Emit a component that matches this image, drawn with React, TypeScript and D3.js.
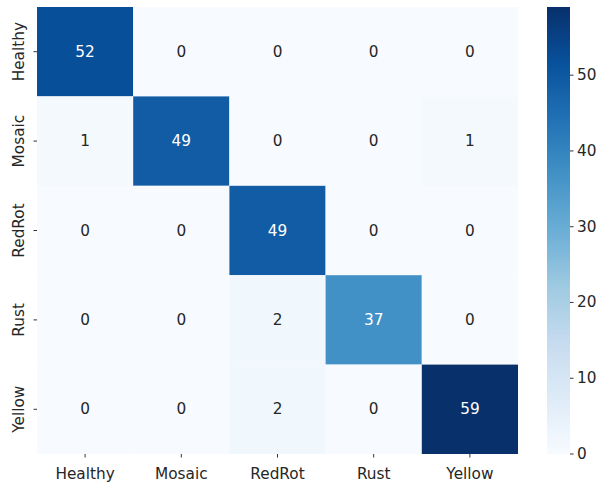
import React from "react";
import * as d3 from "d3";

const classes = ["Healthy", "Mosaic", "RedRot", "Rust", "Yellow"];
const matrix = [
  [52, 0, 0, 0, 0],
  [1, 49, 0, 0, 1],
  [0, 0, 49, 0, 0],
  [0, 0, 2, 37, 0],
  [0, 0, 2, 0, 59],
];
const colorbarTicks = [0, 10, 20, 30, 40, 50];

// ColorBrewer "Blues", linearly interpolated in RGB
const bluesStops = [
  "#f7fbff", "#deebf7", "#c6dbef", "#9ecae1", "#6baed6",
  "#4292c6", "#2171b5", "#08519c", "#08306b",
];

const W = 604;
const H = 488;
const hm = { left: 37, right: 518, top: 7, bottom: 454 };
const cb = { left: 547, right: 570 };
const FONT = "'DejaVu Sans', sans-serif";
const FS = 15.3;

function relLum(c: string) {
  const rgb = d3.rgb(c);
  const f = (v: number) => {
    const s = v / 255;
    return s <= 0.03928 ? s / 12.92 : Math.pow((s + 0.055) / 1.055, 2.4);
  };
  return 0.2126 * f(rgb.r) + 0.7152 * f(rgb.g) + 0.0722 * f(rgb.b);
}

export default function App() {
  const vmin = 0;
  const vmax = d3.max(matrix.flat()) as number;
  const norm = d3.scaleLinear().domain([vmin, vmax]).range([0, 1]).clamp(true);
  const cmap = d3
    .scaleLinear<string>()
    .domain(bluesStops.map((_, i) => i / (bluesStops.length - 1)))
    .range(bluesStops)
    .interpolate(d3.interpolateRgb);
  const color = (v: number) => cmap(norm(v));

  const x = d3.scaleBand().domain(classes).range([hm.left, hm.right]);
  const y = d3.scaleBand().domain(classes).range([hm.top, hm.bottom]);
  const cy = d3.scaleLinear().domain([vmin, vmax]).range([hm.bottom, hm.top]);

  const gradStops = d3.range(0, 101).map((i) => i / 100);

  return (
    <svg width={W} height={H} style={{ position: "absolute", left: 0, top: 0 }}>
      <defs>
        <linearGradient id="cbGrad" x1="0" y1="1" x2="0" y2="0">
          {gradStops.map((t) => (
            <stop key={t} offset={t} stopColor={cmap(t)} />
          ))}
        </linearGradient>
      </defs>
      <rect width={W} height={H} fill="#fff" />

      {matrix.map((row, i) =>
        row.map((v, j) => {
          const fill = color(v);
          const tc = relLum(fill) > 0.408 ? "#262626" : "#ffffff";
          const cx = (x(classes[j]) as number) + x.bandwidth() / 2;
          const cyy = (y(classes[i]) as number) + y.bandwidth() / 2;
          return (
            <g key={`${i}-${j}`}>
              <rect
                x={x(classes[j])}
                y={y(classes[i])}
                width={x.bandwidth()}
                height={y.bandwidth()}
                fill={fill}
              />
              <text
                x={cx}
                y={cyy}
                fill={tc}
                fontFamily={FONT}
                fontSize={FS}
                textAnchor="middle"
                dominantBaseline="central"
              >
                {v}
              </text>
            </g>
          );
        })
      )}

      {/* x axis ticks */}
      {classes.map((c) => {
        const px = (x(c) as number) + x.bandwidth() / 2;
        return (
          <g key={`xt-${c}`}>
            <line x1={px} x2={px} y1={hm.bottom} y2={hm.bottom + 3.5} stroke="#000" strokeWidth={0.8} />
            <text x={px} y={hm.bottom + 25} fill="#262626" fontFamily={FONT} fontSize={FS} textAnchor="middle">
              {c}
            </text>
          </g>
        );
      })}

      {/* y axis ticks */}
      {classes.map((c) => {
        const py = (y(c) as number) + y.bandwidth() / 2;
        return (
          <g key={`yt-${c}`}>
            <line x1={hm.left - 3.5} x2={hm.left} y1={py} y2={py} stroke="#000" strokeWidth={0.8} />
            <text
              transform={`translate(${hm.left - 13},${py}) rotate(-90)`}
              fill="#262626"
              fontFamily={FONT}
              fontSize={FS}
              textAnchor="middle"
            >
              {c}
            </text>
          </g>
        );
      })}

      {/* colorbar */}
      <rect
        x={cb.left}
        y={hm.top}
        width={cb.right - cb.left}
        height={hm.bottom - hm.top}
        fill="url(#cbGrad)"
      />
      {colorbarTicks.map((t) => (
        <g key={`cb-${t}`}>
          <line x1={cb.right} x2={cb.right + 3.5} y1={cy(t)} y2={cy(t)} stroke="#000" strokeWidth={0.8} />
          <text
            x={cb.right + 7}
            y={cy(t)}
            fill="#262626"
            fontFamily={FONT}
            fontSize={FS}
            dominantBaseline="central"
          >
            {t}
          </text>
        </g>
      ))}
    </svg>
  );
}
